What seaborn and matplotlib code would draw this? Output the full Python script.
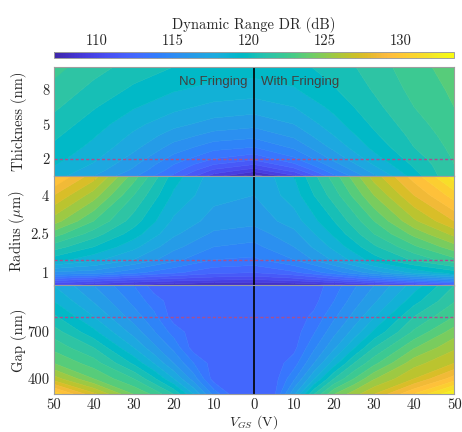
import numpy as np
import matplotlib
matplotlib.use("Agg")
import matplotlib.pyplot as plt
import matplotlib.colors as mcolors
import seaborn as sns

# ---------------- data ----------------
vgs = [0, 10, 20, 30, 40, 50]                 # |V_GS| columns (V)
vgs_gap = [0, 5, 10, 15, 20, 25, 30, 40, 50]

thickness_nm = [0.5, 1, 1.5, 2, 3, 4, 5, 6.5, 8, 10]
thick_nofringe = [
    [107.5, 109.5, 112.8, 115.2, 117.0, 118.5],
    [109.5, 110.8, 113.5, 115.8, 117.5, 118.8],
    [111.0, 112.0, 114.0, 116.2, 117.9, 119.1],
    [112.3, 113.0, 114.6, 116.6, 118.2, 119.4],
    [114.0, 114.4, 115.6, 117.3, 118.7, 119.8],
    [115.3, 115.6, 116.5, 117.8, 119.1, 120.2],
    [116.3, 116.6, 117.3, 118.3, 119.5, 120.6],
    [117.5, 117.7, 118.3, 119.1, 120.1, 121.2],
    [118.5, 118.7, 119.1, 119.8, 120.7, 121.7],
    [119.5, 119.6, 120.0, 120.6, 121.4, 122.3],
]
thick_fringe = [
    [107.5, 109.8, 113.8, 116.8, 119.5, 122.0],
    [109.5, 111.5, 114.8, 117.5, 119.9, 122.0],
    [111.0, 112.8, 115.6, 118.1, 120.2, 122.0],
    [112.3, 113.8, 116.3, 118.6, 120.5, 122.1],
    [114.0, 115.2, 117.3, 119.3, 121.0, 122.3],
    [115.3, 116.2, 118.0, 119.8, 121.3, 122.5],
    [116.3, 117.0, 118.6, 120.2, 121.6, 122.7],
    [117.5, 118.0, 119.3, 120.7, 122.0, 123.0],
    [118.5, 118.9, 119.9, 121.1, 122.3, 123.2],
    [119.5, 119.7, 120.4, 121.5, 122.6, 123.5],
]

radius_um = [0.5, 0.75, 1, 1.5, 2, 2.5, 3, 4, 4.75]
radius_nofringe = [
    [107.8, 107.9, 108.2, 108.6, 109.2, 109.8],
    [110.2, 110.4, 110.8, 111.3, 112.0, 112.7],
    [112.0, 112.3, 113.2, 114.3, 115.5, 115.8],
    [113.8, 114.0, 115.3, 117.0, 118.3, 119.5],
    [114.7, 115.0, 116.3, 118.3, 120.0, 121.5],
    [115.5, 115.8, 117.2, 119.5, 121.5, 123.5],
    [116.3, 116.6, 117.8, 120.5, 123.0, 125.5],
    [117.0, 117.3, 118.8, 122.0, 125.5, 128.0],
    [117.0, 117.5, 119.5, 123.5, 127.5, 130.0],
]
radius_fringe = [
    [107.8, 108.0, 108.5, 109.3, 110.3, 111.3],
    [110.2, 110.7, 111.8, 113.2, 114.6, 115.8],
    [112.0, 112.8, 114.5, 116.5, 118.3, 119.5],
    [113.8, 115.0, 117.2, 119.5, 121.2, 122.7],
    [114.7, 116.0, 118.3, 120.8, 122.8, 124.6],
    [115.5, 116.7, 119.2, 122.0, 124.3, 126.3],
    [116.3, 117.5, 120.0, 123.0, 125.8, 128.0],
    [117.0, 118.5, 121.5, 125.0, 128.0, 130.5],
    [117.0, 119.0, 122.5, 126.5, 129.5, 132.5],
]

gap_nm = [300, 400, 500, 600, 700, 800, 900, 1000]
gap_nofringe = [
    [112.5, 112.5, 114.7, 118.0, 121.0, 122.8, 124.0, 127.3, 130.8],
    [112.5, 112.5, 112.5, 115.5, 118.0, 120.2, 122.0, 124.0, 126.5],
    [112.5, 112.5, 112.5, 114.0, 116.0, 118.0, 119.8, 122.5, 124.0],
    [112.5, 112.5, 112.5, 112.5, 114.7, 116.3, 118.0, 121.0, 122.7],
    [112.5, 112.5, 112.5, 112.5, 113.6, 115.1, 116.6, 119.3, 121.5],
    [112.5, 112.5, 112.5, 112.5, 112.5, 114.3, 115.5, 118.0, 120.2],
    [112.5, 112.5, 112.5, 112.5, 112.5, 113.5, 114.7, 116.9, 119.0],
    [112.5, 112.5, 112.5, 112.5, 112.5, 112.5, 114.0, 116.0, 118.0],
]
gap_fringe = [
    [112.5, 112.7, 116.8, 121.0, 124.0, 125.6, 127.0, 130.1, 133.0],
    [112.5, 112.5, 114.8, 117.9, 121.0, 123.0, 124.9, 127.0, 129.5],
    [112.5, 112.5, 113.5, 116.0, 118.5, 121.0, 122.7, 125.6, 127.0],
    [112.5, 112.5, 112.7, 114.8, 116.8, 118.9, 121.0, 123.9, 125.8],
    [112.5, 112.5, 112.5, 113.9, 115.7, 117.4, 119.2, 122.2, 124.5],
    [112.5, 112.5, 112.5, 113.2, 114.8, 116.3, 117.9, 121.0, 123.0],
    [112.5, 112.5, 112.5, 112.7, 114.0, 115.5, 116.8, 119.6, 121.9],
    [112.5, 112.5, 112.5, 112.5, 113.5, 114.8, 116.0, 118.5, 121.0],
]

design_thickness = 2
design_radius = 1.5
design_gap = 800

cbar_ticks = [110, 115, 120, 125, 130]
x_ticks = [-50, -40, -30, -20, -10, 0, 10, 20, 30, 40, 50]
dr_min, dr_max = 107.2, 133.5

# ---------------- style ----------------
sns.set_theme(style="ticks")
plt.rcParams["font.family"] = ["cmr10", "DejaVu Serif"]
plt.rcParams["mathtext.fontset"] = "cm"
plt.rcParams["axes.unicode_minus"] = False
plt.rcParams["axes.formatter.use_mathtext"] = True

parula = [
    (0.2422, 0.1504, 0.6603), (0.2504, 0.1650, 0.7076), (0.2578, 0.1818, 0.7511),
    (0.2647, 0.1978, 0.7952), (0.2706, 0.2147, 0.8364), (0.2751, 0.2342, 0.8710),
    (0.2783, 0.2559, 0.8991), (0.2803, 0.2782, 0.9221), (0.2813, 0.3006, 0.9414),
    (0.2810, 0.3228, 0.9579), (0.2795, 0.3447, 0.9717), (0.2760, 0.3667, 0.9829),
    (0.2699, 0.3892, 0.9906), (0.2602, 0.4123, 0.9952), (0.2440, 0.4358, 0.9988),
    (0.2206, 0.4603, 0.9973), (0.1963, 0.4847, 0.9892), (0.1834, 0.5074, 0.9798),
    (0.1786, 0.5289, 0.9682), (0.1764, 0.5499, 0.9520), (0.1687, 0.5703, 0.9359),
    (0.1540, 0.5902, 0.9218), (0.1460, 0.6091, 0.9079), (0.1380, 0.6276, 0.8973),
    (0.1248, 0.6459, 0.8883), (0.1113, 0.6635, 0.8763), (0.0952, 0.6798, 0.8598),
    (0.0689, 0.6948, 0.8394), (0.0297, 0.7082, 0.8163), (0.0036, 0.7203, 0.7917),
    (0.0067, 0.7312, 0.7660), (0.0433, 0.7411, 0.7394), (0.0964, 0.7500, 0.7120),
    (0.1408, 0.7584, 0.6842), (0.1717, 0.7670, 0.6554), (0.1938, 0.7758, 0.6251),
    (0.2161, 0.7843, 0.5923), (0.2470, 0.7918, 0.5567), (0.2906, 0.7973, 0.5188),
    (0.3406, 0.8008, 0.4789), (0.3909, 0.8029, 0.4354), (0.4456, 0.8024, 0.3909),
    (0.5044, 0.7993, 0.3480), (0.5616, 0.7942, 0.3045), (0.6174, 0.7876, 0.2612),
    (0.6720, 0.7793, 0.2227), (0.7242, 0.7698, 0.1910), (0.7738, 0.7598, 0.1646),
    (0.8203, 0.7498, 0.1535), (0.8634, 0.7406, 0.1596), (0.9035, 0.7330, 0.1774),
    (0.9393, 0.7288, 0.2100), (0.9728, 0.7298, 0.2394), (0.9956, 0.7434, 0.2371),
    (0.9970, 0.7659, 0.2199), (0.9952, 0.7893, 0.2028), (0.9892, 0.8136, 0.1885),
    (0.9808, 0.8382, 0.1752), (0.9739, 0.8637, 0.1619), (0.9613, 0.8892, 0.1537),
    (0.9596, 0.9163, 0.1409), (0.9619, 0.9428, 0.1206), (0.9664, 0.9697, 0.0880),
    (0.9763, 0.9831, 0.0538),
]
cmap = sns.blend_palette(parula, n_colors=256, as_cmap=True)
norm = mcolors.Normalize(vmin=dr_min, vmax=dr_max)
levels = np.arange(100, 140, 1.0)

fig = plt.figure(figsize=(4.62, 4.32), dpi=100)
L, W = 0.116, 0.867
ax1 = fig.add_axes([L, 0.5926, W, 0.2530])
ax2 = fig.add_axes([L, 0.3391, W, 0.2535])
ax3 = fig.add_axes([L, 0.0873, W, 0.2519])
cax = fig.add_axes([L, 0.8657, W, 0.0139])

spine_col = "0.62"
dash_col = "#a8508f"


def filled(ax, X, Y, Z):
    cs = ax.contourf(X, Y, Z, levels=levels, cmap=cmap, norm=norm, antialiased=True)
    cs.set_edgecolor("face")
    cs.set_linewidth(0.4)
    return cs


def panel(ax, cols, yvals, z_left, z_right, ylim, yticks, yticklabels, ylabel, yline):
    v = np.asarray(cols, float)
    y = np.asarray(yvals, float)
    zl = np.asarray(z_left, float)
    zr = np.asarray(z_right, float)
    Xl, Yl = np.meshgrid(-v[::-1], y)
    filled(ax, Xl, Yl, zl[:, ::-1])
    Xr, Yr = np.meshgrid(v, y)
    filled(ax, Xr, Yr, zr)
    ax.axvline(0, color="black", lw=1.2, zorder=5)
    ax.axhline(yline, color=dash_col, lw=1.0, ls=(0, (2.2, 1.6)), zorder=4)
    ax.set_xlim(-50, 50)
    ax.set_ylim(*ylim)
    ax.set_xticks(x_ticks)
    ax.set_yticks(yticks)
    ax.set_yticklabels(yticklabels)
    ax.set_ylabel(ylabel, fontsize=10.5)
    ax.tick_params(direction="in", length=3.5, width=0.6, color="0.3",
                   top=True, right=True, labelsize=10.5)
    ax.tick_params(axis="y", pad=3)
    ax.tick_params(axis="x", pad=3)
    for s in ax.spines.values():
        s.set_color(spine_col)
        s.set_linewidth(0.8)
        s.set_zorder(6)


panel(ax1, vgs, thickness_nm, thick_nofringe, thick_fringe, (0.5, 10),
      [2, 5, 8], ["2", "5", "8"], "Thickness (nm)", design_thickness)
panel(ax2, vgs, radius_um, radius_nofringe, radius_fringe, (0.5, 4.75),
      [1, 2.5, 4], ["1", "2.5", "4"], r"Radius ($\mu$m)", design_radius)
panel(ax3, vgs_gap, gap_nm, gap_nofringe, gap_fringe, (300, 1000),
      [400, 700], ["400", "700"], "Gap (nm)", design_gap)

for ax in (ax1, ax2):
    ax.tick_params(labelbottom=False)
ax3.set_xticklabels([str(abs(t)) for t in x_ticks])
ax3.set_xlabel(r"$V_{GS}$ (V)", fontsize=10, labelpad=0.5)

for ax in (ax1, ax2, ax3):
    ax.yaxis.set_label_coords(-0.067, 0.5)

ax1.text(-1.5, 8.65, "No Fringing", ha="right", va="center", fontsize=9.5,
         color="0.25", family=["Liberation Sans", "DejaVu Sans"], zorder=7)
ax1.text(1.7, 8.65, "With Fringing", ha="left", va="center", fontsize=9.5,
         color="0.25", family=["Liberation Sans", "DejaVu Sans"], zorder=7)

sm = matplotlib.cm.ScalarMappable(norm=norm, cmap=cmap)
cb = fig.colorbar(sm, cax=cax, orientation="horizontal")
cax.xaxis.set_ticks_position("top")
cax.xaxis.set_label_position("top")
cb.set_ticks(cbar_ticks)
cb.set_ticklabels([str(t) for t in cbar_ticks])
cax.set_xticks(np.arange(108, 134, 1), minor=True)
cax.tick_params(which="major", direction="in", length=3, width=0.5, color="0.4",
                labelsize=10.5, pad=3, top=True, bottom=True)
cax.tick_params(which="minor", direction="in", length=1.5, width=0.4, color="0.4",
                top=True, bottom=True)
cb.set_label("Dynamic Range DR (dB)", fontsize=10.5, labelpad=4)
cb.outline.set_edgecolor(spine_col)
cb.outline.set_linewidth(0.7)

fig.savefig("out.png", dpi=100)
